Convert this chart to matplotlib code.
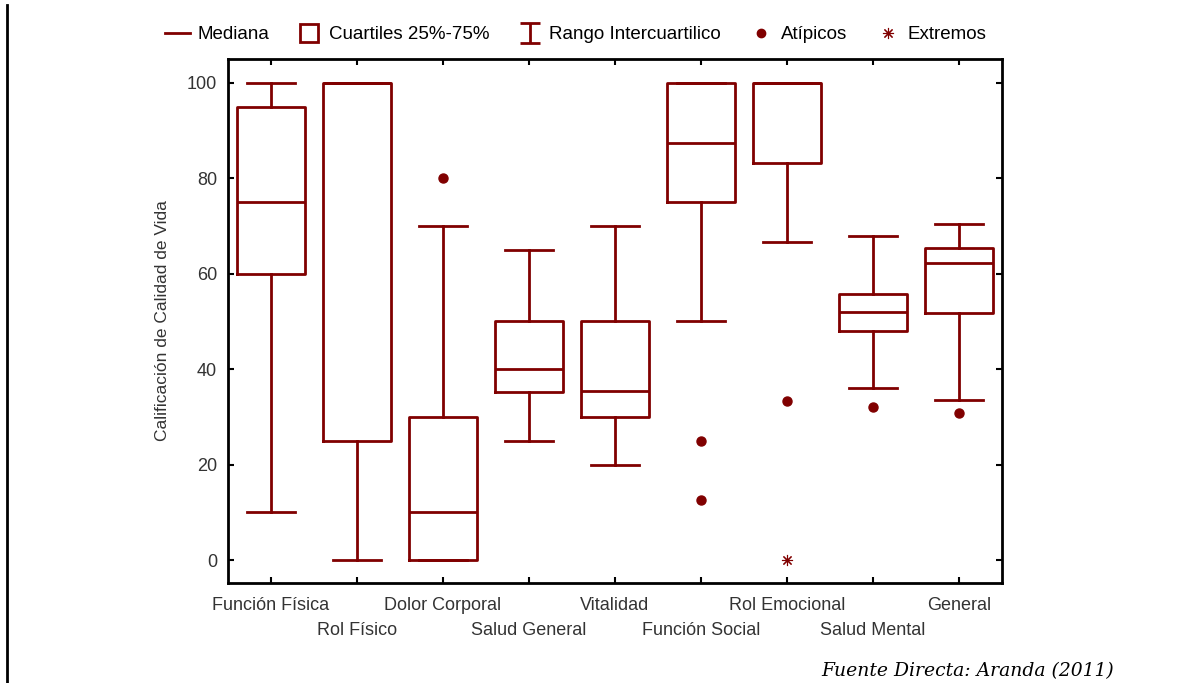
import matplotlib.pyplot as plt
from matplotlib.lines import Line2D
from matplotlib.path import Path

# Dimensiones de calidad de vida (SF-36)
categorias = ["Función Física", "Rol Físico", "Dolor Corporal", "Salud General",
              "Vitalidad", "Función Social", "Rol Emocional", "Salud Mental", "General"]
minimos = [10, 0, 0, 25, 20, 50, 66.7, 36, 33.5]
q1 = [60, 25, 0, 35.3, 30, 75, 83.3, 48, 51.7]
medianas = [75, 100, 10, 40, 35.4, 87.5, 100, 52, 62.2]
q3 = [95, 100, 30, 50, 50, 100, 100, 55.8, 65.3]
maximos = [100, 100, 70, 65, 70, 100, 100, 68, 70.4]
atipicos = [[], [], [80], [], [], [25, 12.5], [33.3], [32], [30.8]]
extremos = [[], [], [], [], [], [], [0], [], []]

rojo = "#800000"
gris = "#333333"
plt.rcParams["font.family"] = ["Liberation Sans", "DejaVu Sans"]

fig = plt.figure(figsize=(11.92, 6.83), dpi=100)
ax = fig.add_axes([0.1913, 0.1464, 0.6493, 0.7672])

stats = []
for i, nombre in enumerate(categorias):
    stats.append({"label": nombre, "whislo": minimos[i], "q1": q1[i], "med": medianas[i],
                  "q3": q3[i], "whishi": maximos[i], "fliers": []})

posiciones = list(range(1, len(categorias) + 1))
estilo = dict(color=rojo, linewidth=2)
ax.bxp(stats, positions=posiciones, widths=0.8, showfliers=False, capwidths=0.56,
       boxprops=estilo, medianprops=estilo, whiskerprops=estilo, capprops=estilo)

for i in range(len(categorias)):
    if atipicos[i]:
        ax.plot([i + 1] * len(atipicos[i]), atipicos[i], "o", color=rojo,
                markersize=6.5, linestyle="none")
    if extremos[i]:
        ax.plot([i + 1] * len(extremos[i]), extremos[i], marker=(8, 2, 0), color=rojo,
                markersize=8, markeredgewidth=0.8, linestyle="none")

ax.set_xlim(0.5, len(categorias) + 0.5)
ax.set_ylim(-4.8, 105)
ax.set_yticks([0, 20, 40, 60, 80, 100])

# etiquetas del eje x alternadas en dos filas
ax.set_xticks(posiciones[::2])
ax.set_xticklabels(categorias[::2])
ax.set_xticks(posiciones[1::2], minor=True)
ax.set_xticklabels(categorias[1::2], minor=True)

ax.tick_params(which="both", direction="in", length=4, width=1.5, top=True, right=True,
               labelsize=13, colors="black", labelcolor=gris)
ax.tick_params(axis="x", which="major", pad=10)
ax.tick_params(axis="x", which="minor", pad=28)
ax.tick_params(axis="y", pad=8)
for s in ax.spines.values():
    s.set_linewidth(2)
ax.set_ylabel("Calificación de Calidad de Vida", fontsize=12.5, color=gris, labelpad=12)

# leyenda personalizada
viga = Path([(-1, 1), (1, 1), (0, 1), (0, -1), (-1, -1), (1, -1)],
            [Path.MOVETO, Path.LINETO, Path.MOVETO, Path.LINETO, Path.MOVETO, Path.LINETO])
manejadores = [
    Line2D([], [], color=rojo, linewidth=2),
    Line2D([], [], color=rojo, marker="s", markersize=13, markerfacecolor="none",
           markeredgewidth=2, linestyle="none"),
    Line2D([], [], color=rojo, marker=viga, markersize=15, markeredgewidth=2, linestyle="none"),
    Line2D([], [], color=rojo, marker="o", markersize=6, linestyle="none"),
    Line2D([], [], color=rojo, marker=(8, 2, 0), markersize=8, markeredgewidth=0.8,
           linestyle="none"),
]
nombres = ["Mediana", "Cuartiles 25%-75%", "Rango Intercuartilico", "Atípicos", "Extremos"]
fig.legend(manejadores, nombres, loc="center", bbox_to_anchor=(0.483, 0.949), ncol=5,
           frameon=False, fontsize=13.5, handlelength=1.3, handletextpad=0.4,
           columnspacing=1.5, labelcolor="black")

# línea vertical del margen izquierdo
fig.add_artist(Line2D([0.0062, 0.0062], [0, 0.993], color="black", linewidth=2))

fig.text(0.9345, 0.004, "Fuente Directa: Aranda (2011)", ha="right", va="bottom",
         fontsize=13.5, style="italic", family="DejaVu Serif")

fig.savefig("out.png", dpi=100)
